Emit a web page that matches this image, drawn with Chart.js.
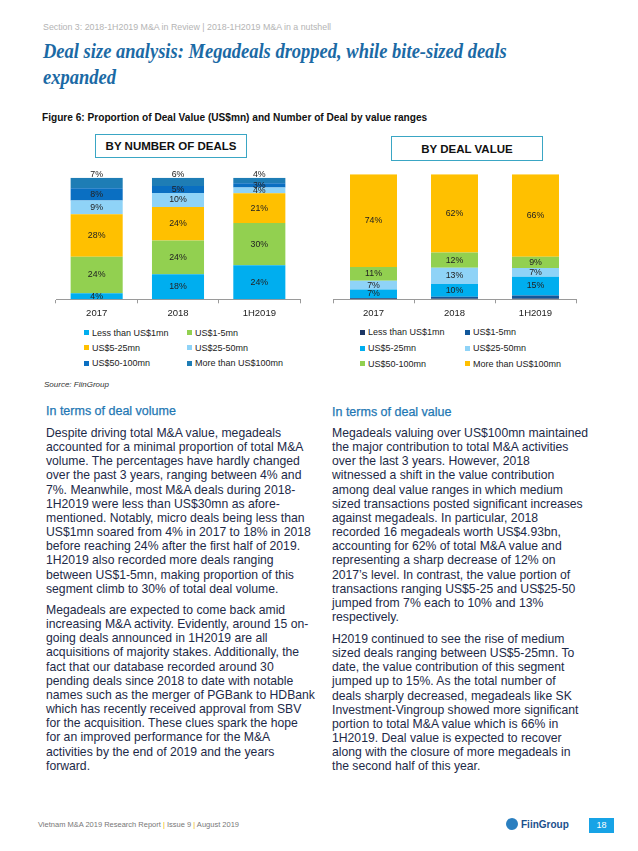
<!DOCTYPE html>
<html>
<head>
<meta charset="utf-8">
<script src="https://cdn.jsdelivr.net/npm/chart.js@4.4.1/dist/chart.umd.min.js"></script>
<style>
  body { margin: 0; background: #fff; }
  #page { position: relative; width: 638px; height: 851px; overflow: hidden; font-family: "Liberation Sans", Arial, sans-serif; }
  .abs { position: absolute; white-space: nowrap; }
  #section { left: 43px; top: 21px; font-size: 9.8px; color: #b4b4b4; transform: scaleX(0.9); transform-origin: left; }
  #title { left: 43px; top: 38px; font-family: "Liberation Serif", "Times New Roman", serif; font-style: italic; font-weight: bold;
           font-size: 20.8px; line-height: 26px; color: #1b6aa5; transform: scaleX(0.89); transform-origin: left top; }
  #caption { left: 42px; top: 111px; font-size: 11px; font-weight: bold; color: #111; transform: scaleX(0.92); transform-origin: left; }
  .box { position: absolute; border: 1.5px solid #3aa6c4; font-weight: bold; font-size: 11.5px; color: #111;
         display: flex; align-items: center; justify-content: center; box-sizing: border-box; }
  canvas { position: absolute; }
  .legend { position: absolute; display: grid; font-size: 9px; color: #222; }
  .legend div { display: flex; align-items: center; white-space: nowrap; }
  .legend span.m { width: 5px; height: 5px; margin-right: 3px; display: inline-block; }
  #source { left: 44px; top: 380px; font-size: 8px; font-style: italic; color: #333; }
  .head { font-size: 12.5px; color: #1f78b4; -webkit-text-stroke: 0.25px #1f78b4; }
  .body { font-size: 12.2px; line-height: 14.15px; color: #1d2a48; }
  #footer { left: 38px; top: 820px; font-size: 7.5px; color: #777; }
  #footer b { color: #f0b400; font-weight: normal; }
  #logo { left: 506px; top: 818px; font-size: 10px; font-weight: bold; color: #1a4f8c; display: flex; align-items: center; }
  #logo i { width: 12px; height: 12px; border-radius: 50%; background: #2a7fc0; display: inline-block; margin-right: 3px; }
  #pageno { left: 589px; top: 818px; width: 25px; height: 15px; background: #17a3e6; color: #fff; font-size: 9px;
            text-align: center; line-height: 15px; }
</style>
</head>
<body>
<div id="page">
  <div id="section" class="abs">Section 3: 2018-1H2019 M&amp;A in Review | 2018-1H2019 M&amp;A in a nutshell</div>
  <div id="title" class="abs">Deal size analysis: Megadeals dropped, while bite-sized deals<br>expanded</div>
  <div id="caption" class="abs">Figure 6: Proportion of Deal Value (US$mn) and Number of Deal by value ranges</div>

  <div class="box" style="left:95px;top:134px;width:152px;height:24px;">BY NUMBER OF DEALS</div>
  <div class="box" style="left:391px;top:136px;width:152px;height:25px;">BY DEAL VALUE</div>

  <canvas id="countChart" width="280" height="160" style="left:40px;top:165px;"></canvas>
  <canvas id="valueChart" width="280" height="160" style="left:320px;top:165px;"></canvas>

  <div id="countLegend" class="legend" style="left:84px;top:325px;grid-template-columns:103px auto;grid-auto-rows:15.3px;"></div>
  <div id="valueLegend" class="legend" style="left:360px;top:324.5px;grid-template-columns:105px auto;grid-auto-rows:15.8px;"></div>

  <div id="source" class="abs">Source: FiinGroup</div>

  <div class="abs head" style="left:46px;top:404px;">In terms of deal volume</div>
  <div class="abs body" style="left:46px;top:426px;">Despite driving total M&amp;A value, megadeals<br>accounted for a minimal proportion of total M&amp;A<br>volume. The percentages have hardly changed<br>over the past 3 years, ranging between 4% and<br>7%. Meanwhile, most M&amp;A deals during 2018-<br>1H2019 were less than US$30mn as afore-<br>mentioned. Notably, micro deals being less than<br>US$1mn soared from 4% in 2017 to 18% in 2018<br>before reaching 24% after the first half of 2019.<br>1H2019 also recorded more deals ranging<br>between US$1-5mn, making proportion of this<br>segment climb to 30% of total deal volume.</div>
  <div class="abs body" style="left:46px;top:603px;">Megadeals are expected to come back amid<br>increasing M&amp;A activity. Evidently, around 15 on-<br>going deals announced in 1H2019 are all<br>acquisitions of majority stakes. Additionally, the<br>fact that our database recorded around 30<br>pending deals since 2018 to date with notable<br>names such as the merger of PGBank to HDBank<br>which has recently received approval from SBV<br>for the acquisition. These clues spark the hope<br>for an improved performance for the M&amp;A<br>activities by the end of 2019 and the years<br>forward.</div>

  <div class="abs head" style="left:332px;top:405px;">In terms of deal value</div>
  <div class="abs body" style="left:332px;top:426px;">Megadeals valuing over US$100mn maintained<br>the major contribution to total M&amp;A activities<br>over the last 3 years. However, 2018<br>witnessed a shift in the value contribution<br>among deal value ranges in which medium<br>sized transactions posted significant increases<br>against megadeals. In particular, 2018<br>recorded 16 megadeals worth US$4.93bn,<br>accounting for 62% of total M&amp;A value and<br>representing a sharp decrease of 12% on<br>2017’s level. In contrast, the value portion of<br>transactions ranging US$5-25 and US$25-50<br>jumped from 7% each to 10% and 13%<br>respectively.</div>
  <div class="abs body" style="left:332px;top:632px;">H2019 continued to see the rise of medium<br>sized deals ranging between US$5-25mn. To<br>date, the value contribution of this segment<br>jumped up to 15%. As the total number of<br>deals sharply decreased, megadeals like SK<br>Investment-Vingroup showed more significant<br>portion to total M&amp;A value which is 66% in<br>1H2019. Deal value is expected to recover<br>along with the closure of more megadeals in<br>the second half of this year.</div>

  <div id="footer" class="abs">Vietnam M&amp;A 2019 Research Report <b>|</b> Issue 9 <b>|</b> August 2019</div>
  <div id="logo" class="abs"><i></i>FiinGroup</div>
  <div id="pageno" class="abs">18</div>
</div>

<script>
/* DATA */

var years = ["2017", "2018", "1H2019"];
var rangeNames = ["Less than US$1mn", "US$1-5mn", "US$5-25mn", "US$25-50mn", "US$50-100mn", "More than US$100mn"];

// by number of deals (%) - labels as printed
var countLess1 = [4, 18, 24];
var count1to5 = [24, 24, 30];
var count5to25 = [28, 24, 21];
var count25to50 = [9, 10, 4];
var count50to100 = [8, 5, 3];
var countOver100 = [7, 6, 4];

// by deal value (%)
var valueLess1 = [0.8, 0.6, 0.6];
var value1to5 = [0, 1.5, 2.5];
var value5to25 = [7, 10, 15];
var value25to50 = [7, 13, 7];
var value50to100 = [11, 12, 9];
var valueOver100 = [74, 62, 66];

var countColors = ["#00aeef", "#92d050", "#ffc000", "#8fd3f7", "#0a6fc2", "#1e7db5"];
var valueColors = ["#1c3664", "#12579a", "#00aeef", "#8fd3f7", "#92d050", "#ffc000"];

/* HELPERS */

// every bar is drawn as a 100% column
function toShares(series) {
  var totals = years.map(function (y, j) {
    var t = 0;
    for (var i = 0; i < series.length; i++) t += series[i][j];
    return t;
  });
  return series.map(function (s) {
    return s.map(function (v, j) { return v / totals[j] * 100; });
  });
}

var segmentLabels = {
  id: "segmentLabels",
  afterDatasetsDraw: function (chart, args, opts) {
    var ctx = chart.ctx;
    var n = chart.data.datasets.length;
    ctx.save();
    ctx.font = '8.8px "Liberation Sans", Arial, sans-serif';
    ctx.fillStyle = "#222";
    ctx.textAlign = "center";
    ctx.textBaseline = "middle";
    chart.data.datasets.forEach(function (ds, i) {
      if (!ds.shown) return;
      chart.getDatasetMeta(i).data.forEach(function (bar, j) {
        var y = (bar.y + bar.base) / 2;
        if (opts.topAtEdge && i === n - 1) y = bar.y - 3.5;
        ctx.fillText(ds.shown[j] + "%", bar.x, y);
      });
    });
    ctx.restore();
  }
};

function makeChart(id, series, colors, labelled, barPct, pad, topAtEdge) {
  var shares = toShares(series);
  var datasets = [];
  for (var i = 0; i < series.length; i++) {
    datasets.push({
      label: rangeNames[i],
      data: shares[i],
      shown: labelled[i] ? series[i] : null,
      backgroundColor: colors[i],
      barPercentage: barPct,
      categoryPercentage: 1
    });
  }
  new Chart(id, {
    type: "bar",
    data: { labels: years, datasets: datasets },
    options: {
      responsive: false,
      animation: false,
      layout: { padding: pad },
      scales: {
        x: {
          stacked: true,
          grid: { offset: true, drawOnChartArea: false, tickLength: 4, color: "#9a9a9a" },
          border: { color: "#9a9a9a" },
          ticks: { color: "#222", font: { size: 9.5, family: '"Liberation Sans", Arial, sans-serif' }, padding: 4 }
        },
        y: { stacked: true, display: false, min: 0, max: 100 }
      },
      plugins: {
        legend: { display: false },
        tooltip: { enabled: false },
        segmentLabels: { topAtEdge: topAtEdge }
      }
    },
    plugins: [segmentLabels]
  });
}

function buildLegend(elId, colors) {
  var el = document.getElementById(elId);
  rangeNames.forEach(function (name, i) {
    var d = document.createElement("div");
    var m = document.createElement("span");
    m.className = "m";
    m.style.background = colors[i];
    d.appendChild(m);
    d.appendChild(document.createTextNode(name));
    el.appendChild(d);
  });
}

/* CHARTS */

makeChart("countChart",
  [countLess1, count1to5, count5to25, count25to50, count50to100, countOver100],
  countColors, [true, true, true, true, true, true], 0.64,
  { left: 16, right: 20, top: 12.7, bottom: 2.3 }, true);

makeChart("valueChart",
  [valueLess1, value1to5, value5to25, value25to50, value50to100, valueOver100],
  valueColors, [false, false, true, true, true, true], 0.58,
  { left: 13, right: 24, top: 9.3, bottom: 2.3 }, false);

buildLegend("countLegend", countColors);
buildLegend("valueLegend", valueColors);
</script>
</body>
</html>
